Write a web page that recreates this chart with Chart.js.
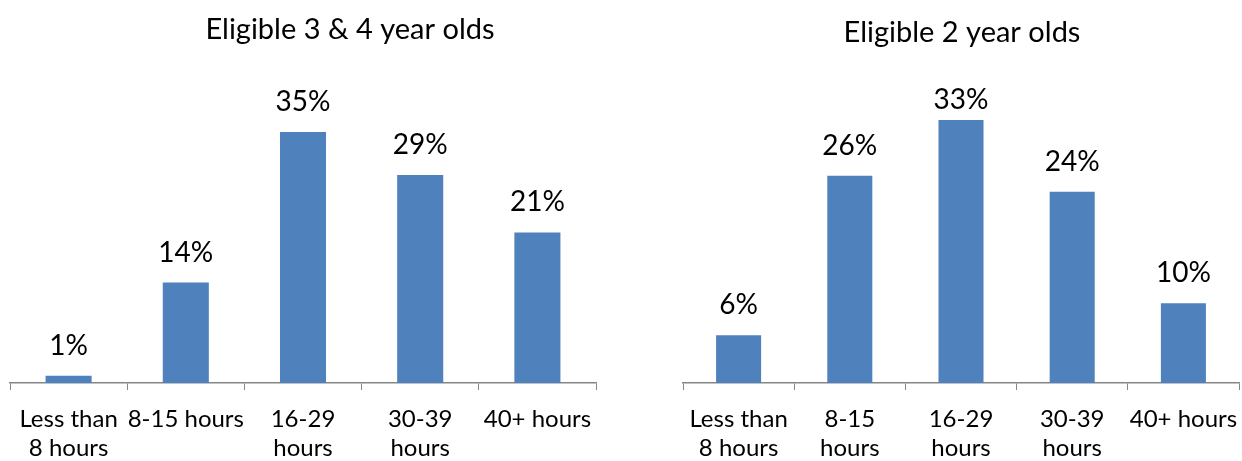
<!DOCTYPE html>
<html>
<head>
<meta charset="utf-8">
<script src="https://cdn.jsdelivr.net/npm/chart.js@4.4.1/dist/chart.umd.min.js"></script>
<style>
  html, body { margin: 0; padding: 0; background: #ffffff; }
  #wrap { position: relative; width: 1242px; height: 461px; overflow: hidden; }
  canvas { position: absolute; top: 0; }
  #c34 { left: 0; }
  #c2 { left: 621px; }
</style>
</head>
<body>
<div id="wrap">
  <canvas id="c34" width="621" height="461"></canvas>
  <canvas id="c2" width="621" height="461"></canvas>
</div>
<script>
// Hours of childcare taken up, share of eligible children
const hoursLabels34 = [["Less than", "8 hours"], "8-15 hours", ["16-29", "hours"], ["30-39", "hours"], "40+ hours"];
const hoursLabels2 = [["Less than", "8 hours"], ["8-15", "hours"], ["16-29", "hours"], ["30-39", "hours"], "40+ hours"];
const share34 = [1, 14, 35, 29, 21];
const share2 = [6, 26, 33, 24, 10];
const title34 = "Eligible 3 & 4 year olds";
const title2 = "Eligible 2 year olds";

const FONT = "Lato, 'Open Sans', sans-serif";
const BAR_BLUE = "#4F81BD";
const AXIS_GREY = "#868686";

// Panel heading drawn above the plot
const panelTitle = {
  id: "panelTitle",
  afterDraw(chart, args, opts) {
    const ctx = chart.ctx;
    ctx.save();
    ctx.font = opts.size + "px " + FONT;
    ctx.fillStyle = "#000";
    ctx.textAlign = "center";
    ctx.textBaseline = "alphabetic";
    ctx.fillText(opts.text, opts.x, opts.baseline);
    ctx.restore();
  }
};

// Percentage printed above each bar
const valueLabels = {
  id: "valueLabels",
  afterDatasetsDraw(chart, args, opts) {
    const ctx = chart.ctx;
    const meta = chart.getDatasetMeta(0);
    const values = chart.data.datasets[0].data;
    ctx.save();
    ctx.font = opts.size + "px " + FONT;
    ctx.fillStyle = "#000";
    ctx.textAlign = "center";
    ctx.textBaseline = "middle";
    meta.data.forEach((bar, i) => {
      const y = Math.max(bar.y - opts.gap, chart.chartArea.top + opts.minTop);
      ctx.fillText(values[i] + "%", bar.x, y);
    });
    ctx.restore();
  }
};

function makePanel(canvasId, labels, values, heading, opt) {
  return new Chart(document.getElementById(canvasId), {
    type: "bar",
    data: {
      labels: labels,
      datasets: [{
        data: values,
        backgroundColor: BAR_BLUE,
        borderWidth: 0,
        categoryPercentage: 1,
        barPercentage: opt.barPct
      }]
    },
    options: {
      responsive: false,
      animation: false,
      events: [],
      layout: { padding: { top: 89, left: opt.padLeft, right: opt.padRight, bottom: 0 } },
      plugins: {
        legend: { display: false },
        tooltip: { enabled: false },
        title: { display: false },
        panelTitle: { text: heading, x: opt.titleX, baseline: opt.titleBase, size: 29 },
        valueLabels: { size: 28, gap: 30, minTop: 11 }
      },
      scales: {
        x: {
          offset: true,
          grid: {
            display: true,
            offset: true,
            drawOnChartArea: false,
            drawTicks: true,
            tickLength: 7,
            color: AXIS_GREY,
            lineWidth: 1
          },
          border: { display: true, color: AXIS_GREY, width: 1.5 },
          ticks: {
            color: "#000",
            font: { family: FONT, size: 24, lineHeight: 1.2 },
            padding: 15,
            maxRotation: 0,
            minRotation: 0,
            autoSkip: false
          },
          afterFit(scale) {
            // fixed axis band; edge labels may run into the page margin
            scale.height = 78;
            scale.paddingLeft = 0;
            scale.paddingRight = 0;
          }
        },
        y: {
          display: false,
          min: 0,
          max: opt.yMax
        }
      }
    },
    plugins: [panelTitle, valueLabels]
  });
}

makePanel("c34", hoursLabels34, share34, title34, {
  barPct: 0.393, padLeft: 10, padRight: 25, yMax: 41.0, titleX: 350, titleBase: 39
});
makePanel("c2", hoursLabels2, share2, title2, {
  barPct: 0.405, padLeft: 62, padRight: 3, yMax: 36.9, titleX: 341, titleBase: 42
});
</script>
</body>
</html>
